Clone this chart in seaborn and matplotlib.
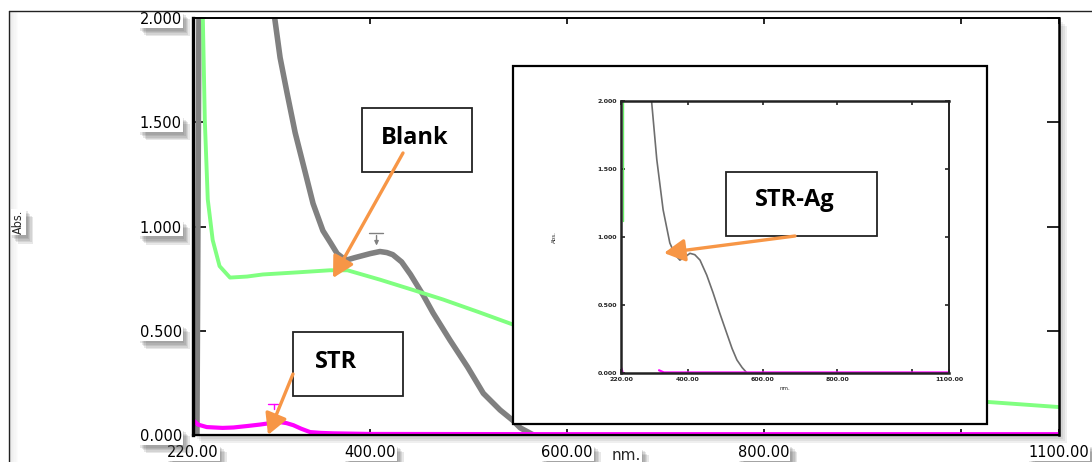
import numpy as np
import pandas as pd
import matplotlib
matplotlib.use("Agg")
import matplotlib.pyplot as plt
import seaborn as sns
from matplotlib import patheffects as pe
from matplotlib.patches import Rectangle, FancyArrowPatch
from matplotlib.lines import Line2D

# ---------------- data ----------------
gray_nm = [224, 227, 300, 303, 308.5, 315.6, 323.8, 334, 342, 352, 360, 366.5, 372, 376.7,
           384, 392, 400, 410, 417, 423, 432, 441, 454, 464, 481, 499, 515, 532, 545,
           552.6, 566]
gray_abs = [0.0, 3.0, 2.3, 2.0, 1.81, 1.64, 1.45, 1.26, 1.11, 0.98, 0.92, 0.87, 0.85, 0.84,
            0.85, 0.86, 0.87, 0.88, 0.875, 0.865, 0.83, 0.77, 0.67, 0.585, 0.456, 0.326,
            0.20, 0.12, 0.07, 0.034, 0.0]

green_nm = [229, 230, 232, 235, 240, 247, 257.6, 275, 291, 326, 359, 377, 410, 444,
            474, 510, 545, 600, 700, 800, 900, 1000, 1029, 1100]
green_abs = [2.3, 2.0, 1.51, 1.13, 0.935, 0.81, 0.755, 0.76, 0.77, 0.78, 0.79, 0.79,
             0.745, 0.695, 0.65, 0.59, 0.53, 0.45, 0.34, 0.26, 0.20, 0.165, 0.158, 0.134]

magenta_nm = [220, 225, 234, 250, 261, 275, 288, 300, 308, 315, 322, 330, 339, 350,
              362, 400, 600, 800, 1000, 1100]
magenta_abs = [0.072, 0.05, 0.038, 0.034, 0.036, 0.043, 0.05, 0.058, 0.062, 0.057,
               0.047, 0.03, 0.014, 0.01, 0.008, 0.005, 0.004, 0.004, 0.004, 0.004]

# peak-pick markers (wavelength, marker height)
gray_peak_nm, gray_peak_abs = 406.5, 0.97
mag_peak_nm, mag_peak_abs = 301.0, 0.15

# inset spectrum (STR-Ag)
inset_gray_nm = [300, 302, 316, 333, 351, 365, 378, 390, 405, 418, 432, 450, 467,
                 485, 504, 518, 531, 545, 558]
inset_gray_abs = [2.1, 2.0, 1.57, 1.20, 0.956, 0.87, 0.83, 0.85, 0.88, 0.87, 0.83,
                  0.72, 0.59, 0.44, 0.29, 0.18, 0.096, 0.04, 0.0]
inset_green_nm = [225, 225]
inset_green_abs = [2.0, 1.12]
inset_mag1_nm = [220, 225]
inset_mag1_abs = [0.05, 0.01]
inset_mag2_nm = [322, 335, 1100]
inset_mag2_abs = [0.02, 0.004, 0.004]

x_ticks = [220, 400, 600, 800, 1000, 1100]
x_tick_labels = ["220.00", "400.00", "600.00", "800.00", "", "1100.00"]
y_ticks = [0.0, 0.5, 1.0, 1.5, 2.0]
y_tick_labels = ["0.000", "0.500", "1.000", "1.500", "2.000"]

labels = ["Blank", "STR", "STR-Ag"]

# ---------------- style ----------------
sns.set_style("white")
plt.rcParams["font.family"] = ["DejaVu Sans"]

GRAY = "#808080"
GREEN = "#80FF80"
MAGENTA = "#FF00FF"
ORANGE = "#F79646"

W, H = 1092, 462
fig = plt.figure(figsize=(W / 100, H / 100), dpi=100)
fig.patch.set_facecolor("white")


def fx(px):
    return px / W


def fy(py):
    return 1 - py / H


shadow = [pe.SimplePatchShadow(offset=(o, -o - 1), shadow_rgbFace=(0.3, 0.3, 0.3), alpha=0.13)
          for o in (1, 2, 3, 4, 5)] + [pe.Normal()]

# outer frame of the drawing
fig.add_artist(Line2D([fx(9), 1.0], [fy(11), fy(11)], transform=fig.transFigure, color="#222222", lw=1.0))
fig.add_artist(Line2D([fx(9), fx(9)], [fy(11), 0.0], transform=fig.transFigure, color="#222222", lw=1.0))
for i in range(1, 8):
    fig.add_artist(Rectangle((fx(9.5), 0), fx(1.2 * i), fy(12) - 0, transform=fig.transFigure,
                             facecolor="0.5", alpha=0.02, edgecolor="none", zorder=-2))

# main axes
L, R, T, B = 193, 1059, 18, 435
for d in (2, 4, 6, 8):
    fig.add_artist(Rectangle((fx(L + d), fy(B + d)), fx(R) - fx(L), fy(T) - fy(B),
                             transform=fig.transFigure, facecolor="0.2", alpha=0.08,
                             edgecolor="none", zorder=-1))
ax = fig.add_axes([fx(L), fy(B), fx(R) - fx(L), fy(T) - fy(B)])
ax.set_facecolor("white")

sns.lineplot(x=gray_nm, y=gray_abs, ax=ax, color=GRAY, linewidth=4.0, sort=False, estimator=None)
sns.lineplot(x=green_nm, y=green_abs, ax=ax, color=GREEN, linewidth=2.8, sort=False, estimator=None)
sns.lineplot(x=magenta_nm, y=magenta_abs, ax=ax, color=MAGENTA, linewidth=3.0, sort=False, estimator=None)

# peak-pick markers
ax.plot([gray_peak_nm - 8, gray_peak_nm + 7], [gray_peak_abs, gray_peak_abs], color=GRAY, lw=1.0)
ax.annotate("", xy=(gray_peak_nm, gray_peak_abs - 0.075), xytext=(gray_peak_nm, gray_peak_abs),
            arrowprops=dict(arrowstyle="-|>,head_length=0.25,head_width=0.12", color=GRAY, lw=1.0))
ax.plot([mag_peak_nm - 5, mag_peak_nm + 5], [mag_peak_abs, mag_peak_abs], color=MAGENTA, lw=1.0)
ax.plot([mag_peak_nm + 1, mag_peak_nm + 1], [mag_peak_abs, mag_peak_abs - 0.025], color=MAGENTA, lw=1.0)

ax.set_xlim(220, 1100)
ax.set_ylim(0, 2)
ax.set_xticks(x_ticks)
ax.set_xticklabels(x_tick_labels)
ax.set_yticks(y_ticks)
ax.set_yticklabels(y_tick_labels)
ax.tick_params(axis="y", direction="in", length=9, width=1.2, left=True, right=True,
               labelsize=10.5, pad=8, colors="black")
ax.tick_params(axis="x", direction="in", length=4, width=1.2, bottom=True, top=True,
               labelsize=10.5, pad=7, colors="black")
for side, w in (("left", 2.4), ("bottom", 1.6), ("top", 1.4), ("right", 1.8)):
    ax.spines[side].set_visible(True)
    ax.spines[side].set_color("black")
    ax.spines[side].set_linewidth(w)

for lbl in ax.get_xticklabels() + ax.get_yticklabels():
    lbl.set_bbox(dict(facecolor="white", edgecolor="none", pad=0.6))
    lbl.get_bbox_patch().set_path_effects(shadow)

ax.set_ylabel("Abs.", fontsize=9, fontstretch="condensed")
ax.yaxis.set_label_coords((25 - L) / (R - L), (B - 222) / (B - T))
ax.set_xlabel("nm.", fontsize=11, va="baseline")
ax.xaxis.set_label_coords((626 - L) / (R - L), (B - 460) / (B - T))
for lab in (ax.yaxis.label, ax.xaxis.label):
    lab.set_bbox(dict(facecolor="white", edgecolor="none", pad=0.8))
    lab.get_bbox_patch().set_path_effects(shadow)

# ---------------- inset ----------------
fig.add_artist(Rectangle((fx(513), fy(424)), fx(987) - fx(513), fy(66) - fy(424),
                         transform=fig.transFigure, facecolor="white", edgecolor="black",
                         lw=1.6, zorder=1.5))
il, ir, it, ib = 621, 949, 101, 373
axi = fig.add_axes([fx(il), fy(ib), fx(ir) - fx(il), fy(it) - fy(ib)])
axi.set_zorder(2)
axi.set_facecolor("white")
sns.lineplot(x=inset_gray_nm, y=inset_gray_abs, ax=axi, color="#6e6e6e", linewidth=1.2,
             sort=False, estimator=None)
sns.lineplot(x=inset_green_nm, y=inset_green_abs, ax=axi, color="#66ee66", linewidth=1.0,
             sort=False, estimator=None)
sns.lineplot(x=inset_mag1_nm, y=inset_mag1_abs, ax=axi, color=MAGENTA, linewidth=1.0,
             sort=False, estimator=None)
sns.lineplot(x=inset_mag2_nm, y=inset_mag2_abs, ax=axi, color=MAGENTA, linewidth=1.6,
             sort=False, estimator=None)
axi.set_xlim(220, 1100)
axi.set_ylim(0, 2)
axi.set_xticks(x_ticks)
axi.set_xticklabels(x_tick_labels)
axi.set_yticks(y_ticks)
axi.set_yticklabels(y_tick_labels)
axi.tick_params(axis="both", direction="in", length=3, width=1.2, left=True, right=True,
                top=True, bottom=True, labelsize=4.5, pad=3, colors="#222222")
for lbl in axi.get_xticklabels() + axi.get_yticklabels():
    lbl.set_fontweight("bold")
for side, w in (("left", 1.8), ("bottom", 1.8), ("top", 1.8), ("right", 1.4)):
    axi.spines[side].set_visible(True)
    axi.spines[side].set_color("#222222")
    axi.spines[side].set_linewidth(w)
axi.set_ylabel("Abs.", fontsize=4)
axi.yaxis.set_label_coords((557 - il) / (ir - il), 0.5)
axi.set_xlabel("nm.", fontsize=4)
axi.xaxis.set_label_coords((785 - il) / (ir - il), (ib - 386) / (ib - it))

# ---------------- annotation boxes and arrows ----------------
boxes = [
    # (x0, y0, x1, y1) box in pixels, text centre, arrow tail, arrow tip
    ((362, 108, 472, 172), (415, 138), (403, 153), (333, 278)),
    ((293, 332, 403, 396), (336, 362), (293, 374), (268, 435)),
    ((726, 172, 877, 236), (795, 200), (795, 236), (664, 253)),
]
for label, (bx, tc, tail, tip) in zip(labels, boxes):
    x0, y0, x1, y1 = bx
    fig.add_artist(Rectangle((fx(x0), fy(y1)), fx(x1) - fx(x0), fy(y0) - fy(y1),
                             transform=fig.transFigure, facecolor="white", edgecolor="#222222",
                             lw=1.3, zorder=5))
    fig.text(fx(tc[0]), fy(tc[1]), label, fontsize=17, fontweight="bold",
             family=["Open Sans", "DejaVu Sans"], ha="center", va="center", color="black",
             zorder=6)
    fig.add_artist(FancyArrowPatch((fx(tail[0]), fy(tail[1])), (fx(tip[0]), fy(tip[1])),
                                   transform=fig.transFigure,
                                   arrowstyle="-|>,head_length=0.7,head_width=0.38",
                                   mutation_scale=18, color=ORANGE, lw=2.4,
                                   shrinkA=0, shrinkB=0, zorder=6))

fig.savefig("out.png", dpi=100)
